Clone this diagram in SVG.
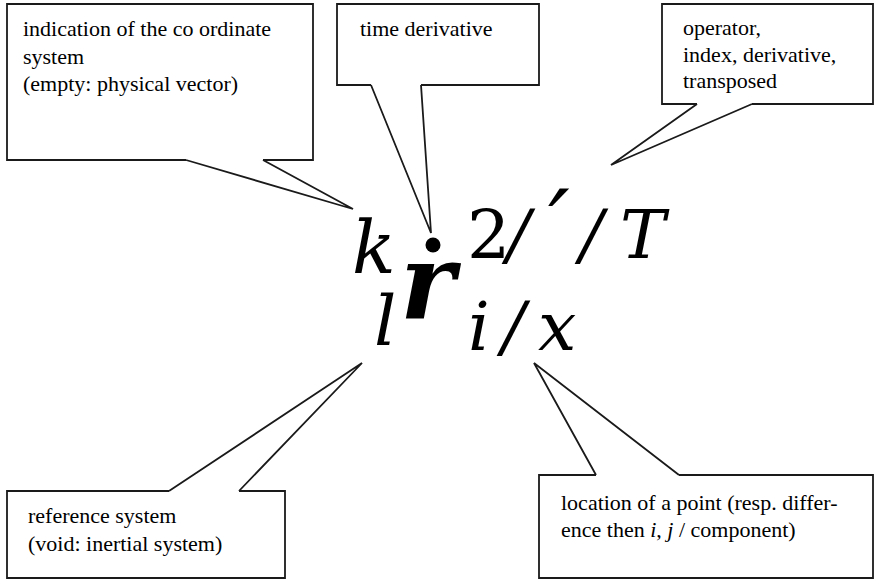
<svg xmlns="http://www.w3.org/2000/svg" width="876" height="582" viewBox="0 0 876 582">
<rect width="876" height="582" fill="#fff"/>
<g id="connectors" fill="none" stroke="#1a1a1a" stroke-width="1.8">
<polyline points="263,160 353,209 186,160"/>
<polyline points="421,85 431,233 371,85"/>
<polyline points="752,104 611,165 697,104"/>
<polyline points="169,491 362,363 239,491"/>
<polyline points="596,475 534,363 679,475"/>
</g>
<g id="coordinate-system" fill="#000">
<path d="M186,160 H7 V4 H313 V160 H263" fill="none" stroke="#1a1a1a" stroke-width="1.8"/>
<text x="23" y="36" style="font-family:'Liberation Serif',serif;font-size:22px">indication of the co ordinate</text>
<text x="23" y="63.5" style="font-family:'Liberation Serif',serif;font-size:22px">system</text>
<text x="23" y="91" style="font-family:'Liberation Serif',serif;font-size:22px">(empty: physical vector)</text>
</g>
<g id="time-derivative" fill="#000">
<path d="M371,85 H337 V4 H539 V85 H421" fill="none" stroke="#1a1a1a" stroke-width="1.8"/>
<text x="360" y="36" style="font-family:'Liberation Serif',serif;font-size:22px">time derivative</text>
</g>
<g id="operator" fill="#000">
<path d="M697,104 H662 V4 H873 V104 H752" fill="none" stroke="#1a1a1a" stroke-width="1.8"/>
<text x="683" y="35" style="font-family:'Liberation Serif',serif;font-size:22px">operator,</text>
<text x="683" y="61.5" style="font-family:'Liberation Serif',serif;font-size:22px">index, derivative,</text>
<text x="683" y="88" style="font-family:'Liberation Serif',serif;font-size:22px">transposed</text>
</g>
<g id="reference-system" fill="#000">
<path d="M169,491 H7 V578 H285 V491 H239" fill="none" stroke="#1a1a1a" stroke-width="1.8"/>
<text x="28" y="523" style="font-family:'Liberation Serif',serif;font-size:22px">reference system</text>
<text x="28" y="551" style="font-family:'Liberation Serif',serif;font-size:22px">(void: inertial system)</text>
</g>
<g id="location" fill="#000">
<path d="M596,475 H539 V578 H873 V475 H679" fill="none" stroke="#1a1a1a" stroke-width="1.8"/>
<text x="561" y="510" style="font-family:'Liberation Serif',serif;font-size:22px">location of a point (resp. differ-</text>
<text x="561" y="537" style="font-family:'Liberation Serif',serif;font-size:22px">ence then <tspan style="font-style:italic">i</tspan>, <tspan style="font-style:italic">j</tspan> / component)</text>
</g>
<g id="formula" fill="#000">
<text x="352" y="273" style="font-family:'DejaVu Serif',serif;font-style:italic;font-size:72px">k</text>
<text x="374" y="345" style="font-family:'DejaVu Serif',serif;font-style:italic;font-size:70px">l</text>
<text x="400" y="318" style="font-family:'DejaVu Serif',serif;font-style:italic;font-weight:bold;font-size:104px">r</text>
<circle cx="433" cy="245" r="7.5"/>
<text x="467" y="258" style="font-family:'DejaVu Serif',serif;font-size:68px">2</text>
<text x="507" y="258" style="font-family:'DejaVu Serif',serif;font-style:italic;font-size:68px">/</text>
<text x="548" y="258" style="font-family:'DejaVu Serif',serif;font-style:italic;font-size:96px">′</text>
<text x="580" y="258" style="font-family:'DejaVu Serif',serif;font-style:italic;font-size:68px">/</text>
<text x="620" y="258" style="font-family:'DejaVu Serif',serif;font-style:italic;font-size:68px">T</text>
<text x="468" y="350" style="font-family:'DejaVu Serif',serif;font-style:italic;font-size:68px">i</text>
<text x="502" y="350" style="font-family:'DejaVu Serif',serif;font-style:italic;font-size:68px">/</text>
<text x="538" y="350" style="font-family:'DejaVu Serif',serif;font-style:italic;font-size:68px">x</text>
</g>
</svg>
